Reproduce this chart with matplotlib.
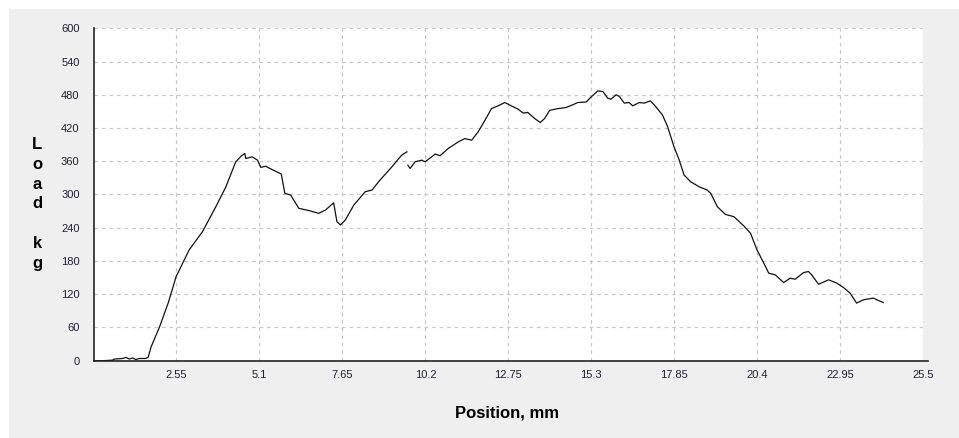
import numpy as np
import matplotlib
matplotlib.use("Agg")
import matplotlib.pyplot as plt
from matplotlib.patches import Rectangle

# Load vs position trace (mm, kg); NaN marks a break in the recording
position_mm = [
    0.00, 0.30, 0.58, 0.65, 0.90, 1.00, 1.10, 1.20, 1.30, 1.40, 1.60, 1.68,
    1.77, 2.03, 2.30, 2.54, 2.94, 3.35, 3.76, 4.07, 4.37, 4.55, 4.65, 4.68,
    4.88, 5.04, 5.14, 5.29, 5.49, 5.77, 5.88, 6.06, 6.31, 6.62, 6.92, 7.13,
    7.38, 7.48, 7.59, 7.74, 8.00, 8.35, 8.56, 8.76, 9.17, 9.47, 9.63,
    np.nan,
    9.66, 9.73, 9.88, 10.09, 10.19, 10.50, 10.65, 10.90, 11.21, 11.41, 11.62,
    11.82, 12.03, 12.23, 12.43, 12.64, 12.84, 13.05, 13.20, 13.35, 13.56,
    13.73, 13.86, 14.02, 14.27, 14.52, 14.73, 14.88, 15.14, 15.29, 15.50,
    15.65, 15.80, 15.90, 16.06, 16.16, 16.31, 16.46, 16.57, 16.77, 16.93,
    17.11, 17.23, 17.48, 17.64, 17.84, 18.00, 18.15, 18.35, 18.61, 18.86,
    18.97, 19.17, 19.42, 19.68, 19.99, 20.19, 20.39, 20.65, 20.75, 20.95,
    21.21, 21.41, 21.56, 21.82, 21.97, 22.07, 22.28, 22.59, 22.84, 23.05,
    23.25, 23.45, 23.66, 23.97, 24.07, 24.27,
]
load_kg = [
    0, 0, 1, 3, 4, 6, 3, 5, 2, 4, 4, 6,
    25, 61, 105, 152, 200, 233, 278, 314, 359, 370, 374, 365,
    368, 362, 349, 351, 345, 337, 302, 299, 275, 271, 266, 272,
    285, 251, 245, 254, 281, 305, 308, 323, 350, 371, 377,
    np.nan,
    353, 347, 359, 362, 359, 373, 370, 383, 395, 401, 398,
    413, 434, 455, 460, 466, 460, 454, 447, 448, 437,
    430, 437, 452, 455, 457, 462, 466, 467, 476, 487,
    486, 474, 472, 480, 477, 465, 466, 460, 466, 465,
    469, 462, 444, 423, 386, 362, 335, 323, 314, 308,
    302, 278, 264, 260, 243, 230, 200, 170, 158, 155,
    141, 149, 147, 159, 161, 155, 138, 146, 140, 132,
    122, 104, 110, 113, 110, 105,
]

x_ticks = [2.55, 5.1, 7.65, 10.2, 12.75, 15.3, 17.85, 20.4, 22.95, 25.5]
x_tick_labels = ["2.55", "5.1", "7.65", "10.2", "12.75", "15.3", "17.85", "20.4", "22.95", "25.5"]
y_ticks = [0, 60, 120, 180, 240, 300, 360, 420, 480, 540, 600]

plt.rcParams["font.family"] = ["Liberation Sans", "DejaVu Sans"]

W, H = 959, 438
fig = plt.figure(figsize=(W / 100, H / 100), dpi=100)
fig.patch.set_facecolor("white")

# grey panel behind the chart
fig.patches.append(Rectangle((9 / W, 0), 1 - 9 / W, 1 - 9 / H, transform=fig.transFigure,
                             facecolor="#efefef", edgecolor="none", zorder=-10))

left, right = 93.5 / W, 923.3 / W
bottom, top = 1 - 360.7 / H, 1 - 28.3 / H
ax = fig.add_axes([left, bottom, right - left, top - bottom])
ax.set_facecolor("white")

ax.plot(position_mm, load_kg, color="#111111", linewidth=0.9)

ax.set_xlim(0, 25.5)
ax.set_ylim(0, 600)
ax.set_xticks(x_ticks)
ax.set_xticklabels(x_tick_labels)
ax.set_yticks(y_ticks)
ax.tick_params(axis="both", length=0, labelsize=8, labelcolor="#1e1e3a")
ax.tick_params(axis="y", pad=10)
ax.tick_params(axis="x", pad=7)

ax.grid(True, color="#c8c8c8", linestyle=(0, (3, 3)), linewidth=0.9)
ax.set_axisbelow(True)
for s in ("top", "right"):
    ax.spines[s].set_visible(False)
for s in ("left", "bottom"):
    ax.spines[s].set_color("#222222")
    ax.spines[s].set_linewidth(1.2)
ax.spines["bottom"].set_bounds(0, 25.65)
ax.spines["bottom"].set_clip_on(False)

# stacked-letter y axis title
fig.text(37 / W, 1 - 204 / H, "L\no\na\nd\n\nk\ng", ha="center", va="center",
         fontsize=12, fontweight="bold", linespacing=1.39, multialignment="center")
fig.text(507 / W, 1 - 413 / H, "Position, mm", ha="center", va="center",
         fontsize=12, fontweight="bold")

fig.savefig("out.png", dpi=100, facecolor=fig.get_facecolor())
